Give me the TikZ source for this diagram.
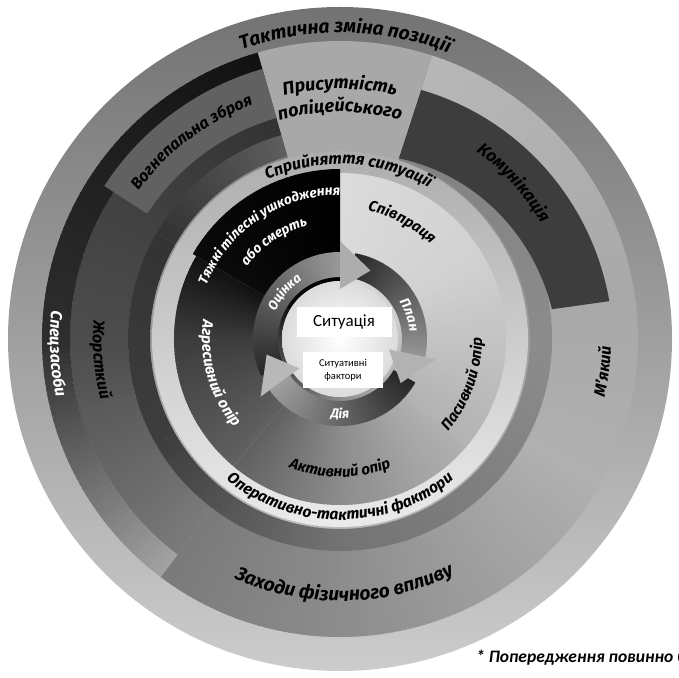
\documentclass[tikz,border=0pt]{standalone}
\usepackage{fontspec}
\newfontfamily\labfam{Fira Sans}
\newfontfamily\boxfont{Carlito}
\newcommand\labfont{\labfam\bfseries\itshape}
\usetikzlibrary{decorations.text}

% annular sector with angular grey gradient: a1, a2, r1, r2, black% start, black% end, steps
\newcommand\gradsec[7]{%
 \foreach \gi in {1,...,#7}{%
  \pgfmathsetmacro\gsa{(#1)+((#2)-(#1))*(\gi-1)/(#7)-(\gi>1)*0.5*sign((#2)-(#1))}%
  \pgfmathsetmacro\gsb{(#1)+((#2)-(#1))*\gi/(#7)}%
  \pgfmathsetmacro\gsp{(#5)+((#6)-(#5))*(\gi-0.5)/(#7)}%
  \fill[black!\gsp] (\gsa:#3) arc[start angle=\gsa,end angle=\gsb,radius=#3]
    -- (\gsb:#4) arc[start angle=\gsb,end angle=\gsa,radius=#4] -- cycle;
 }}

% clockwise text (tops outward): angle, baseline radius, size, colour, text
\newcommand\labcw[5]{%
 \path[decorate,decoration={text along path,text align=center,text color=#4,
   text={|\labfont\fontsize{#3}{#3}\selectfont|#5}}]
   ({#1+85}:#2) arc[start angle={#1+85},end angle={#1-85},radius=#2];}
% counter-clockwise text (tops inward)
\newcommand\labccw[5]{%
 \path[decorate,decoration={text along path,text align=center,text color=#4,
   text={|\labfont\fontsize{#3}{#3}\selectfont|#5}}]
   ({#1-85}:#2) arc[start angle={#1-85},end angle={#1+85},radius=#2];}

\begin{document}
\begin{tikzpicture}[x=1pt,y=1pt]
\useasboundingbox (-340,-338) rectangle (339,339);
\fill[white] (-340,-338) rectangle (339,339);

% outer ring (Тактична зміна позиції)
\shade[top color=black!55,bottom color=black!20] (0,0) circle[radius=332pt];

% right / bottom response options
\gradsec{72}{8}{212pt}{298pt}{28}{34}{50}
\gradsec{8}{-30}{212pt}{298pt}{34}{31}{30}
\gradsec{-30}{-90}{212pt}{298pt}{31}{45}{48}
\gradsec{-90}{-127}{212pt}{298pt}{45}{52}{30}
% left: Жорсткий band
\gradsec{233}{180}{212pt}{270pt}{52}{70}{44}
\gradsec{180}{106}{212pt}{270pt}{70}{80}{50}
% left: Спецзасоби band
\gradsec{233}{180}{270pt}{298pt}{36}{82}{44}
\gradsec{180}{106}{270pt}{298pt}{82}{93}{50}
% inner ring
\gradsec{72}{150}{190pt}{212pt}{50}{80}{60}
\gradsec{150}{210}{190pt}{212pt}{80}{76}{40}
\gradsec{210}{270}{190pt}{212pt}{76}{55}{45}
\gradsec{270}{360}{190pt}{212pt}{55}{45}{60}
\gradsec{360}{432}{190pt}{212pt}{45}{50}{40}

% Комунікація
\fill[black!76] plot[domain=72:8,samples=30] (\x:{262+10*(72-\x)/64})
  -- plot[domain=8:72,samples=30] (\x:{190+24*(72-\x)/64}) -- cycle;
% Присутність поліцейського
\fill[black!34] (72:188pt) arc[start angle=72,end angle=106,radius=188pt]
  -- (106:298pt) arc[start angle=106,end angle=72,radius=298pt] -- cycle;
% Вогнепальна зброя
\fill[black!62] (106:230pt) arc[start angle=106,end angle=147,radius=230pt]
  -- (147:281pt) arc[start angle=147,end angle=106,radius=281pt] -- cycle;

% perception / tactical ring
\shade[top color=black!32,bottom color=black!8] (0,0) circle[radius=188pt];

% subject behaviour ring
\gradsec{90}{30}{58pt}{166pt}{14}{18}{40}
\gradsec{30}{-40}{58pt}{166pt}{18}{30}{50}
\gradsec{-40}{-90}{58pt}{166pt}{30}{45}{40}
\gradsec{-90}{-130}{58pt}{166pt}{45}{62}{35}
\gradsec{-130}{-180}{58pt}{166pt}{62}{76}{40}
\gradsec{-180}{-210}{58pt}{166pt}{76}{93}{25}
\gradsec{-210}{-270}{58pt}{170pt}{96}{100}{20}

% centre
\shade[inner color=white,outer color=black!14] (0,0) circle[radius=58pt];

% cycle arrows
\gradsec{205}{90}{62pt}{87pt}{85}{40}{60}
\gradsec{80}{-12}{62pt}{87pt}{85}{42}{50}
\gradsec{-30}{-144}{62pt}{87pt}{85}{38}{60}
\fill[black!32] (90:50pt) -- (66:75pt) -- (90:98pt) -- cycle;
\fill[black!30] (-12:50pt) -- (-36:75pt) -- (-12:98pt) -- cycle;
\fill[black!28] (216:50pt) -- (192:75pt) -- (216:98pt) -- cycle;

% boxes
\node[fill=white,minimum width=95pt,minimum height=30pt,inner sep=0pt,
  font=\boxfont\fontsize{17}{17}\selectfont] (sit) at (4,17) {Ситуація};
\node[fill=white,minimum width=80pt,minimum height=36pt,inner sep=0pt,align=center,
  font=\boxfont\fontsize{10.5}{12.5}\selectfont] (fac) at (3,-31) {Ситуативні\\фактори};

% labels
\labcw{89}{306pt}{19}{black}{Тактична зміна позиції}
\labcw{90}{250pt}{18}{black}{Присутність}
\labcw{90}{227pt}{18}{black}{поліцейського}
\labcw{87}{175pt}{16}{black}{Сприйняття ситуації}
\labcw{127}{250pt}{16}{black}{Вогнепальна зброя}
\labcw{42}{232pt}{17}{black}{Комунікація}
\labccw{-7}{271pt}{16}{black}{М’який}
\labccw{-89}{262pt}{19}{black}{Заходи фізичного впливу}
\labccw{-90}{181pt}{15.5}{black}{Оперативно-тактичні фактори}
\labccw{-90}{138pt}{15}{black}{Активний опір}
\labccw{-20}{142pt}{15}{black}{Пасивний опір}
\labcw{62}{131pt}{15}{black}{Співпраця}
\labcw{124}{144pt}{13.5}{white}{Тяжкі тілесні ушкодження}
\labcw{124}{118pt}{13.5}{white}{або смерть}
\labccw{196}{138pt}{15}{white}{Агресивний опір}
\labccw{183}{290pt}{16}{white}{Спецзасоби}
\labccw{185}{247pt}{16}{black}{Жорсткий}
\labcw{140}{70pt}{13}{white}{Оцінка}
\labcw{19}{70pt}{13.5}{white}{План}
\labccw{-90}{79pt}{13}{white}{Дія}

% footnote
\node[anchor=base west,inner sep=0pt,font=\boxfont\bfseries\itshape\fontsize{17.5}{17.5}\selectfont]
  (note) at (136,-323) {* Попередження повинно бути};
\end{tikzpicture}
\end{document}
